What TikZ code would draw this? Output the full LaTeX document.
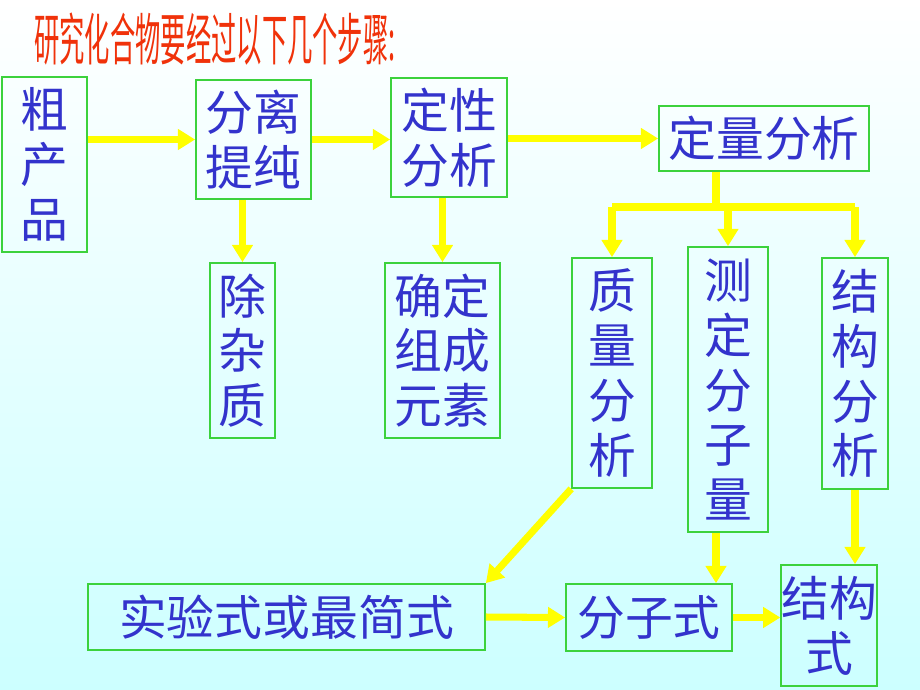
\documentclass[tikz,border=0pt]{standalone}
\usepackage{fontspec}
\setmainfont{Noto Sans CJK SC}
\usetikzlibrary{arrows.meta}
\definecolor{bgcyan}{RGB}{204,255,255}
\definecolor{txtblue}{RGB}{51,51,204}
\definecolor{titlered}{RGB}{240,50,10}
\definecolor{boxgreen}{RGB}{60,210,60}
\definecolor{arrowyellow}{RGB}{255,255,0}
\tikzset{sz/.style 2 args={minimum width=#1*0.025cm,minimum height=#2*0.025cm}}

\begin{document}
\begin{tikzpicture}[x=0.025cm,y=-0.025cm]
\shade[top color=white,bottom color=bgcyan] (0,0) rectangle (920,690);
\useasboundingbox (0,0) rectangle (920,690);

\node[text=titlered,font=\fontsize{40}{44}\selectfont,xscale=0.45,transform shape,anchor=west] (title) at (32,39) {研究化合物要经过以下几个步骤:};

\begin{scope}[every node/.style={rectangle,draw=boxgreen,line width=1.2pt,text=txtblue,
    inner sep=0pt,align=center,font=\fontsize{34}{39}\selectfont}]
    \node[sz={85}{175}] (cu) at (44.5,164.5) {粗\\产\\品};
    \node[sz={115}{119}] (fl) at (253.5,139.5) {分离\\提纯};
    \node[sz={116}{119}] (dx) at (449,137.5) {定性\\分析};
    \node[sz={210}{65}] (dl) at (764,138.5) {定量分析};

    \node[sz={65}{175}] (cz) at (242.5,350.5) {除\\杂\\质};
    \node[sz={115}{175}] (qd) at (442.5,350.5) {确定\\组成\\元素};
    \node[sz={80}{230}] (zl) at (612,373) {质\\量\\分\\析};
    \node[sz={80}{285}] (cd) at (728,389.5) {测\\定\\分\\子\\量};
    \node[sz={66}{231}] (jg) at (855,373.5) {结\\构\\分\\析};

    \node[sz={397}{66}] (sy) at (286.5,617) {实验式或最简式};
    \node[sz={166}{67}] (fz) at (649,617.5) {分子式};
    \node[sz={94}{121}] (js) at (829,625.5) {结构\\式};
\end{scope}

\coordinate (split) at (716,207);

\begin{scope}[arrowyellow,line width=5pt,>={Triangle[length=0.43cm,width=0.5cm]}]
    \path [->] (cu.east |- fl.west) edge (fl.west);
    \path [->] (fl.east) edge (fl.east -| dx.west);
    \path [->] (dx.east |- dl.west) edge (dl.west);
    \path [->] (fl.south -| cz.north) edge (cz.north);
    \path [->] (dx.south -| qd.north) edge (qd.north);

    \path [-] (dl.south -| split) edge (split);
    \path [-] (split -| zl.north) edge (split -| jg.north);
    \path [->] (split -| zl.north) edge (zl.north);
    \path [->] (split -| cd.north) edge (cd.north);
    \path [->] (split -| jg.north) edge (jg.north);

    \path [->] (zl.south west) edge (sy.north east);
    \path [->] (cd.south -| split) edge (split |- fz.north);
    \path [->] (jg.south) edge (jg.south |- js.north);
    \path [->] (sy.east) edge (fz.west);
    \path [->] (fz.east) edge (fz.east -| js.west);
\end{scope}
\end{tikzpicture}
\end{document}
